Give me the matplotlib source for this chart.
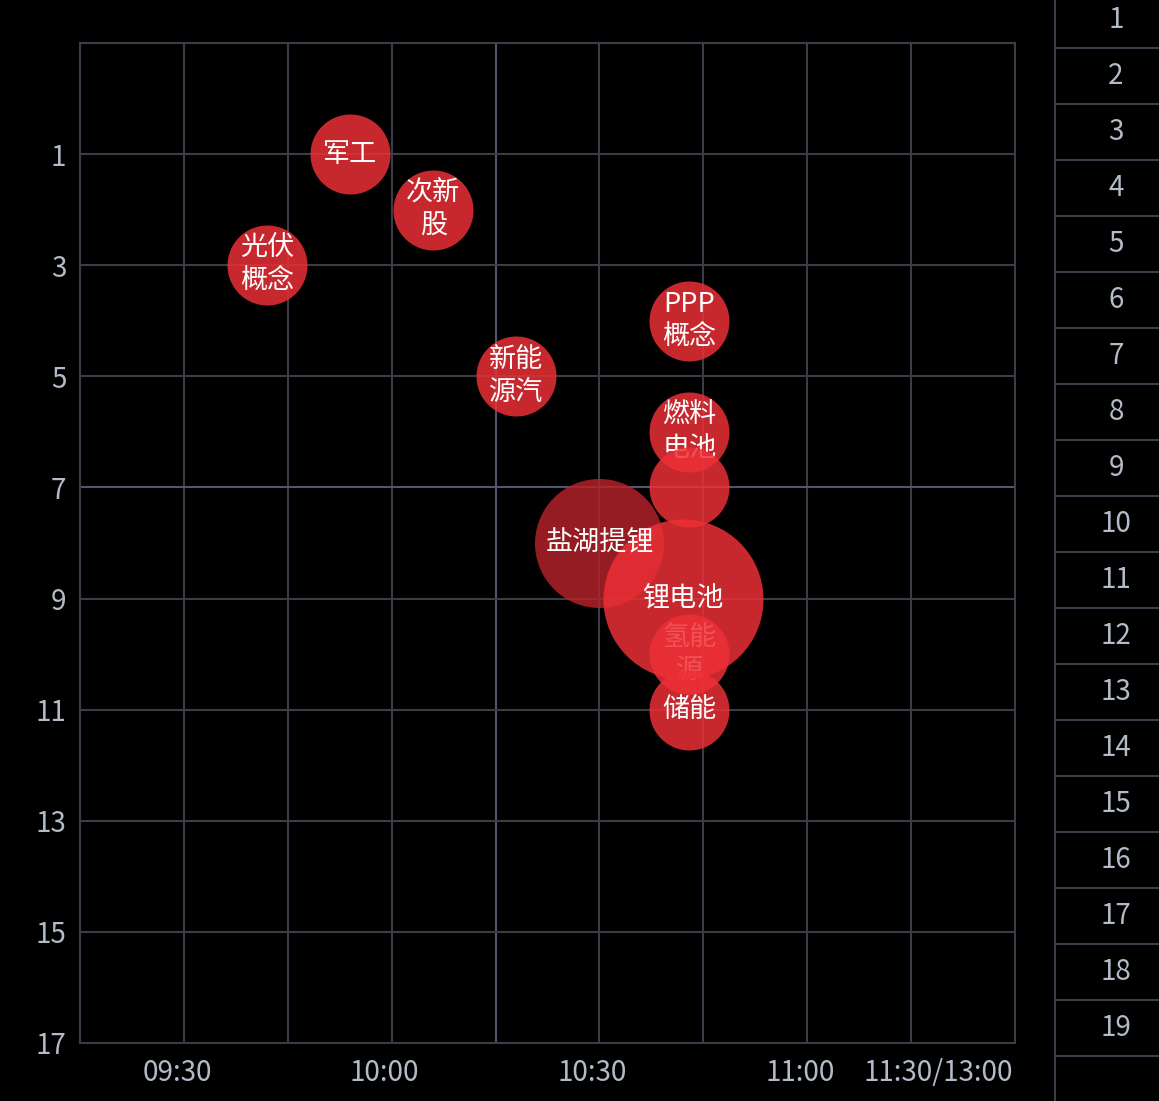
import numpy as np
import matplotlib
matplotlib.use("Agg")
import matplotlib.pyplot as plt
from matplotlib import transforms

plt.rcParams['font.family'] = ['Noto Sans CJK SC', 'DejaVu Sans']

# bubble data
labels = ["军工", "次新\n股", "光伏\n概念", "PPP\n概念", "新能\n源汽", "燃料\n电池", "",
          "盐湖提锂", "锂电池", "氢能\n源", "储能"]
times = ["09:54", "10:06", "09:42", "10:43", "10:18", "10:43", "10:43",
         "10:30", "10:42", "10:43", "10:43"]
ranks = [1, 2, 3, 4, 5, 6, 7, 8, 9, 10, 11]
heat = [10, 10, 10, 10, 10, 10, 10, 26, 40, 10, 10]

xtick_times = ["09:30", "10:00", "10:30", "11:00", "11:30"]
xtick_labels = ["09:30", "10:00", "10:30", "11:00", "11:30/13:00"]
ytick_values = [1, 3, 5, 7, 9, 11, 13, 15, 17]
side_ranks = list(range(1, 20))

W, H, DPI = 1159, 1101, 100
GRID = '#3a3c48'
GRID_HI = '#56536d'
TXT = '#b4bbc8'


def to_min(t):
    h, m = t.split(":")
    return int(h) * 60 + int(m)


x = np.array([to_min(t) for t in times])
y = np.array(ranks)
radius_px = 40 * np.sqrt(np.array(heat) / 10)
sizes = (2 * radius_px * 72 / DPI) ** 2

fig = plt.figure(figsize=(W / DPI, H / DPI), dpi=DPI, facecolor='black')
ax = fig.add_axes([80 / W, (H - 1043) / H, 935 / W, 1000 / H])
ax.set_facecolor('black')

x0, x1 = to_min("09:15"), to_min("11:30")
ax.set_xlim(x0, x1)
ax.set_ylim(17, -1)

# grid
for gx in range(x0, x1 + 1, 15):
    c = GRID_HI if gx == to_min("10:15") else GRID
    ax.axvline(gx, color=c, lw=1.5, zorder=0)
for gy in range(-1, 18, 2):
    c = GRID_HI if gy == 7 else GRID
    ax.axhline(gy, color=c, lw=1.5, zorder=0)
for s in ax.spines.values():
    s.set_color(GRID)
    s.set_linewidth(1.5)

ax.set_xticks([to_min(t) for t in xtick_times])
ax.set_xticklabels(xtick_labels)
ax.set_yticks(ytick_values)
ax.set_yticklabels([str(v) for v in ytick_values])
ax.tick_params(length=0, colors=TXT, labelsize=20)
ax.tick_params(axis='x', pad=11)
ax.tick_params(axis='y', pad=10)
xl = ax.get_xticklabels()
for lab in xl[:-1]:
    lab.set_transform(lab.get_transform() + transforms.ScaledTranslation(-7 / DPI, 0, fig.dpi_scale_trans))
xl[-1].set_ha('right')
xl[-1].set_transform(xl[-1].get_transform() + transforms.ScaledTranslation(-2 / DPI, 0, fig.dpi_scale_trans))

# bubbles, drawn small ones first, big ones on top
order = [0, 1, 2, 3, 4, 5, 6, 9, 10, 7, 8]
under_text = {5, 9}
for k, i in enumerate(order):
    col = '#b4222a' if labels[i] == "盐湖提锂" else '#ee3037'
    z = 2 + k * 0.1
    ax.scatter(x[i], y[i], s=sizes[i], color=col, alpha=0.84, linewidths=0, zorder=z)
    tz = z + 0.05 if i in under_text else 10
    ax.text(x[i], y[i], labels[i], color='white', fontsize=19.5, ha='center', va='center',
            linespacing=1.3, zorder=tz)

# right rank column
ax2 = fig.add_axes([1055 / W, 0, (W - 1055) / W, 1])
ax2.set_facecolor('black')
ax2.set_xlim(0, W - 1055)
ax2.set_ylim(H, 0)
ax2.set_xticks([])
ax2.set_yticks([])
for n, s in ax2.spines.items():
    s.set_visible(n == 'left')
ax2.spines['left'].set_color(GRID)
ax2.spines['left'].set_linewidth(1.5)
for k, r in enumerate(side_ranks):
    ax2.axhline(47.5 + 56 * k, color=GRID, lw=1.5)
    ax2.text(61, 20 + 56 * k, str(r), color=TXT, fontsize=20, ha='center', va='center')

fig.savefig("out.png", dpi=DPI, facecolor='black')
